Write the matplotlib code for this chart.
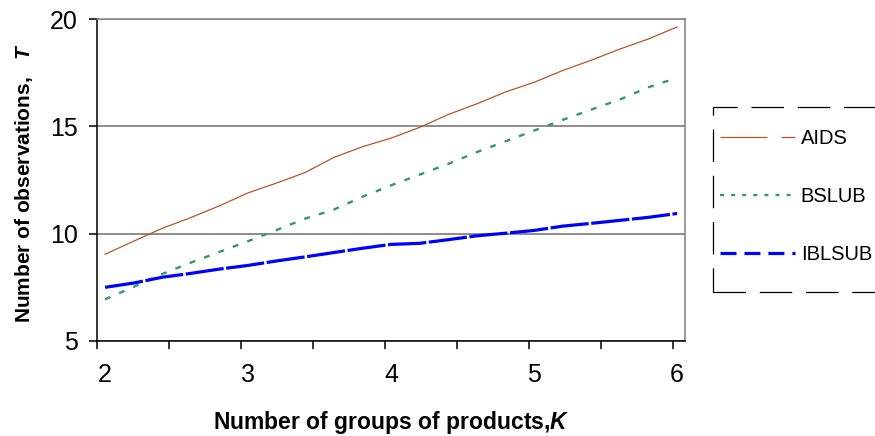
import numpy as np
import matplotlib
matplotlib.use("Agg")
import matplotlib.pyplot as plt
from matplotlib.lines import Line2D
from matplotlib.patches import Rectangle

# data
K = [2.0, 2.2, 2.4, 2.6, 2.8, 3.0, 3.2, 3.4, 3.6, 3.8, 4.0,
     4.2, 4.4, 4.6, 4.8, 5.0, 5.2, 5.4, 5.6, 5.8, 6.0]
aids = [9.04, 9.65, 10.25, 10.75, 11.3, 11.9, 12.36, 12.85, 13.55, 14.05, 14.45,
        14.95, 15.55, 16.05, 16.6, 17.05, 17.6, 18.08, 18.6, 19.07, 19.63]
bslub = [6.94, 7.52, 8.12, 8.65, 9.15, 9.65, 10.17, 10.7, 11.12, 11.72, 12.25,
         12.75, 13.25, 13.8, 14.3, 14.8, 15.3, 15.78, 16.25, 16.82, 17.26]
iblsub = [7.50, 7.70, 7.97, 8.15, 8.35, 8.52, 8.73, 8.92, 9.12, 9.32, 9.50,
          9.55, 9.72, 9.90, 10.02, 10.15, 10.35, 10.48, 10.62, 10.76, 10.94]
x_labels = [2, 3, 4, 5, 6]
y_ticks = [5, 10, 15, 20]
series_names = ["AIDS", "BSLUB", "IBLSUB"]

plt.rcParams["font.family"] = ["Liberation Sans", "DejaVu Sans"]
plt.rcParams["mathtext.fontset"] = "custom"
plt.rcParams["mathtext.rm"] = "Liberation Sans:bold"
plt.rcParams["mathtext.it"] = "Liberation Sans:italic:bold"
plt.rcParams["mathtext.bf"] = "Liberation Sans:bold"

c_aids = "#B9542A"
c_bslub = "#2E9A66"
c_ibl = "#0000FF"

fig = plt.figure(figsize=(8.75, 4.36), dpi=100)
ax = fig.add_axes([0.1109, 0.2179, 0.672, 0.7385])

ax.plot(K, aids, color=c_aids, lw=0.9)
ax.plot(K, bslub, color=c_bslub, lw=1.7, linestyle=(0, (2.5, 4.0)))
ax.plot(K, iblsub, color=c_ibl, lw=2.3, linestyle=(0, (12, 0.8)))

ax.set_xlim(1.944, 6.056)
ax.set_ylim(5, 20)

# x labels on the data values, tick marks offset as in the original
ax.set_xticks(x_labels)
ax.set_xticklabels([str(v) for v in x_labels])
ax.set_xticks([1.944 + 0.5035 * i for i in range(9)], minor=True)
ax.tick_params(axis="x", which="major", length=0, pad=16, labelsize=18)
ax.tick_params(axis="x", which="minor", length=6, width=1.1, direction="out")

ax.set_yticks(y_ticks)
ax.tick_params(axis="y", length=6, width=1.1, pad=8, labelsize=18)

ax.grid(axis="y", color="#6e6e6e", lw=1.1)
ax.set_axisbelow(True)

ax.spines["left"].set_color("black")
ax.spines["bottom"].set_color("black")
ax.spines["left"].set_linewidth(1.1)
ax.spines["bottom"].set_linewidth(1.1)
ax.spines["top"].set_color("#808080")
ax.spines["right"].set_color("#808080")
ax.spines["top"].set_linewidth(1.1)
ax.spines["right"].set_linewidth(1.1)

ax.set_xlabel("Number of groups of products,$K$", fontsize=16.5, fontweight="bold")
ax.xaxis.set_label_coords(0.5, -0.21)
ax.set_ylabel("Number of observations,   $T$", fontsize=15, fontweight="bold")
ax.yaxis.set_label_coords(-0.105, 0.49)

# legend with its own dashed frame, cut off at the right edge
handles = [
    Line2D([], [], color=c_aids, lw=0.9, linestyle=(0, (37.6, 11.2, 40, 1))),
    Line2D([], [], color=c_bslub, lw=1.7, linestyle=(0, (1.7, 3.0))),
    Line2D([], [], color=c_ibl, lw=2.3, linestyle=(0, (5, 2.5))),
]
leg = fig.legend(handles, series_names, loc="upper left",
                 bbox_to_anchor=(0.8046, 0.742), frameon=False,
                 fontsize=14.5, handlelength=3.7, handletextpad=0.3,
                 labelspacing=1.95, borderpad=0.3)

frame = Rectangle((713 / 875, 1 - 292 / 436), 0.25, 185 / 436,
                  transform=fig.transFigure, fill=False, edgecolor="black",
                  lw=0.9, linestyle=(0, (26, 11)))
fig.patches.append(frame)

plt.savefig("out.png", dpi=100)
